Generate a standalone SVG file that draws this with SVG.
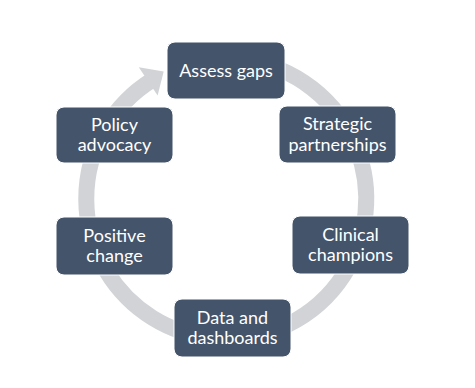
<svg xmlns="http://www.w3.org/2000/svg" width="475" height="388" viewBox="0 0 475 388">
<style>
.node rect{fill:#44546a;stroke:#ffffff;stroke-width:1}
.node text{fill:#ffffff;font-family:Lato,"Open Sans","Liberation Sans",sans-serif;font-size:18px;text-anchor:middle}
.ring{fill:none;stroke:#d1d3d6;stroke-width:16}
</style>
<rect width="475" height="388" fill="#ffffff"/>
<g id="connectors">
<path class="ring" d="M178.1,67.4 A140,140 0 1 1 151.8,80.3"/>
<polygon points="163.7,71.4 138.8,67.2 157.6,95.6" fill="#d1d3d6"/>
</g>
<g id="assess" class="node"><rect x="167" y="42" width="118" height="57" rx="8"/><text x="226" y="77">Assess gaps</text></g>
<g id="strategic" class="node"><rect x="279" y="106" width="117" height="57" rx="8"/><text x="337.5" y="130">Strategic</text><text x="337.5" y="150.5">partnerships</text></g>
<g id="clinical" class="node"><rect x="292" y="216" width="117" height="58" rx="8"/><text x="350.5" y="240.5">Clinical</text><text x="350.5" y="261">champions</text></g>
<g id="data" class="node"><rect x="174" y="299" width="117" height="58" rx="8"/><text x="232.5" y="323.5">Data and</text><text x="232.5" y="344">dashboards</text></g>
<g id="positive" class="node"><rect x="56" y="217" width="117" height="58" rx="8"/><text x="114.5" y="241.5">Positive</text><text x="114.5" y="262">change</text></g>
<g id="policy" class="node"><rect x="56" y="107" width="117" height="56" rx="8"/><text x="114.5" y="130.5">Policy</text><text x="114.5" y="151">advocacy</text></g>
</svg>
